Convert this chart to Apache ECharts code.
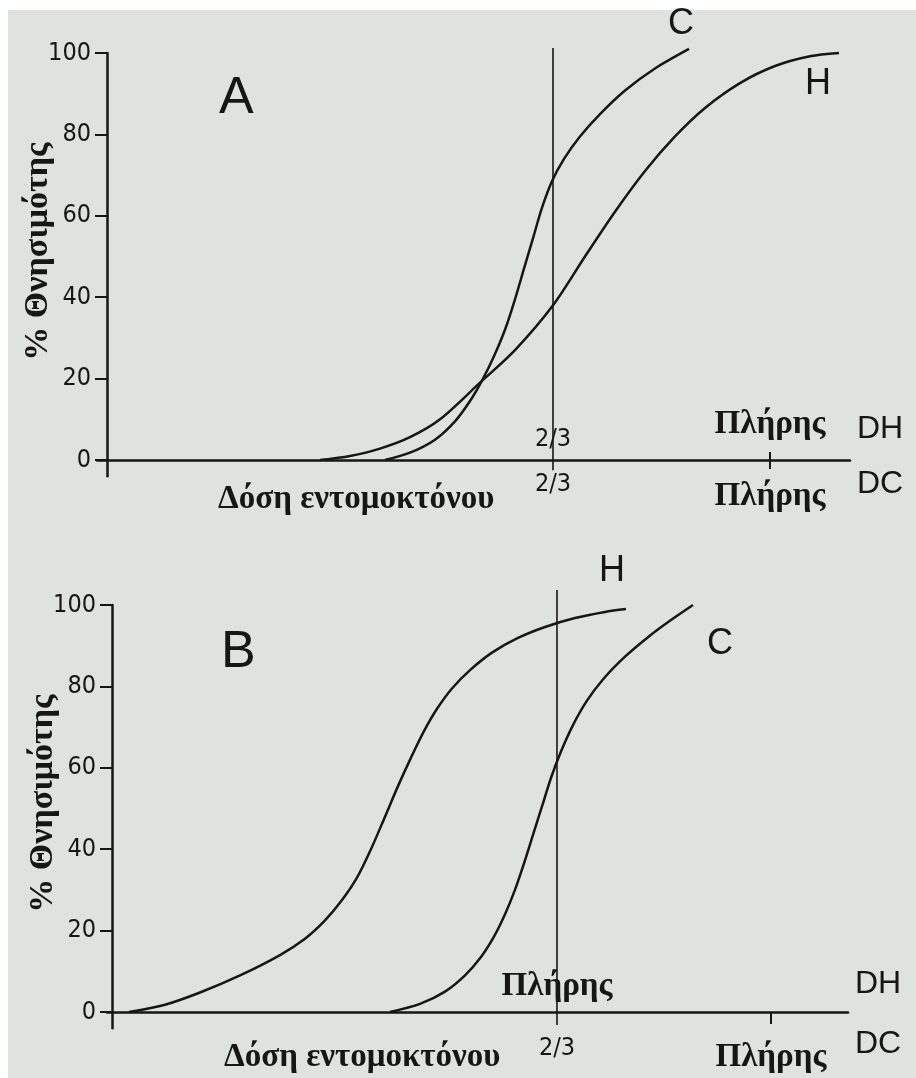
<!DOCTYPE html>
<html><head><meta charset="utf-8">
<script src="https://cdn.jsdelivr.net/npm/echarts@6/dist/echarts.min.js"></script>
<style>
html,body{margin:0;padding:0;background:#fff;overflow:hidden;}
#paper{position:absolute;left:8px;top:10px;width:908px;height:1068px;background:#dfe3df;}
#chart{position:absolute;left:0;top:0;width:916px;height:1078px;}
</style></head><body>
<div id="paper"></div><div id="chart"></div>
<script>
// ---------- data ----------
const yTicks = [0, 20, 40, 60, 80, 100];

// Panel A (dose as fraction of full dose, DC scale)
const doseA_H = [0.3088, 0.3548, 0.4009, 0.447, 0.4931, 0.5545, 0.6083, 0.6667, 0.7158, 0.7619, 0.808, 0.8541, 0.9002, 0.9539, 1.0077, 1.0614, 1.106];
const mortA_H = [0, 1, 2.8, 5.6, 10, 19, 27, 38, 50, 61, 71, 79.5, 86.5, 92.6, 96.8, 99.2, 100];
const doseA_C = [0.4086, 0.447, 0.4854, 0.5161, 0.5392, 0.5576, 0.576, 0.5929, 0.6083, 0.6221, 0.636, 0.6498, 0.6651, 0.6836, 0.7081, 0.7389, 0.7773, 0.8233, 0.8756];
const mortA_C = [0, 1.8, 5, 9.5, 14.5, 19.5, 25.5, 32, 39.5, 47, 54.5, 62, 68.5, 74, 79.5, 85, 90.8, 96.2, 101];

// Panel B
const doseB_H = [0, 0.0561, 0.1106, 0.1729, 0.2352, 0.2741, 0.3053, 0.3318, 0.3551, 0.3769, 0.3988, 0.419, 0.4393, 0.4595, 0.4798, 0.5031, 0.5312, 0.5654, 0.6044, 0.648, 0.6947, 0.7414, 0.7741];
const mortB_H = [0, 1.8, 4.8, 9, 14, 18, 22.5, 27.5, 33, 40, 48, 55.5, 62.5, 69, 74.5, 79.5, 84, 88.3, 91.8, 94.6, 96.8, 98.3, 99];
const doseB_C = [0.4065, 0.4533, 0.4922, 0.5234, 0.5483, 0.5685, 0.5857, 0.6012, 0.6153, 0.6293, 0.6433, 0.6573, 0.6729, 0.6916, 0.7134, 0.7399, 0.7726, 0.8084, 0.8442, 0.8785];
const mortB_C = [0, 2, 5, 9, 13.5, 18.5, 24, 30, 36.5, 43.5, 50.5, 57.5, 64, 70.5, 76.5, 82, 87.3, 92.1, 96.3, 100];

// reference (2/3 dose) vertical line
const refDose = 2 / 3;
const refA = [-2.5, 101.2];
const refB = [-3.2, 103.7];

// x-axis tick labels
const ticksA_DC = [2 / 3, 1];   const labelsA_DC = ['2/3', 'Πλήρης'];
const ticksA_DH = [2 / 3, 1];   const labelsA_DH = ['2/3', 'Πλήρης'];
const ticksB_DC = [2 / 3, 1];   const labelsB_DC = ['2/3', 'Πλήρης'];
const ticksB_DH = [1];          const labelsB_DH = ['Πλήρης'];   // DH scale: full DH = 2/3 DC

const seriesNames = ['H', 'C'];
const panelNames = ['A', 'B'];
const xTitle = 'Δόση εντομοκτόνου';
const yTitle = '% Θνησιμότης';

// ---------- helpers ----------
const zip = (xs, ys) => xs.map((x, i) => [x, ys[i]]);
const INK = '#161616';
const narrow = "'Liberation Sans Narrow','DejaVu Sans Condensed','Liberation Sans',sans-serif";
const serif = "'Liberation Serif','DejaVu Serif',serif";
const sans = "'Liberation Sans',Arial,sans-serif";

function fmt(ticks, labels) {
  return function (v) {
    const i = ticks.findIndex(t => Math.abs(t - v) < 1e-6);
    if (i < 0) return '';
    const s = labels[i];
    return s === '2/3' ? '{n|' + s + '}' : '{g|' + s + '}';
  };
}
function rich(gPad) {
  return {
    n: { fontFamily: narrow, fontSize: 25, lineHeight: 25, color: INK },
    g: { fontFamily: serif, fontWeight: 'bold', fontSize: 33, lineHeight: 33, color: INK, padding: gPad }
  };
}
function yAxis(grid, offset) {
  return {
    type: 'value', gridIndex: grid, min: -4, max: 100, offset: offset,
    axisLine: { show: true, onZero: false, lineStyle: { color: INK, width: 2.5 } },
    axisTick: { show: true, customValues: yTicks, length: 12, lineStyle: { color: INK, width: 2 } },
    axisLabel: { customValues: yTicks, margin: 16, fontFamily: narrow, fontSize: 25, color: INK },
    splitLine: { show: false },
    name: yTitle, nameLocation: 'middle', nameGap: 52, nameMoveOverlap: false,
    nameTextStyle: { fontFamily: serif, fontWeight: 'bold', fontSize: 34, color: INK, padding: [0, 0, 0, 26] }
  };
}
function curve(xi, yi, xs, ys, name, off) {
  return {
    type: 'line', xAxisIndex: xi, yAxisIndex: yi, data: zip(xs, ys),
    smooth: 0.3, symbol: 'none', clip: false, silent: true,
    lineStyle: { color: INK, width: 2.5 },
    endLabel: { show: true, formatter: name, align: 'center', verticalAlign: 'middle', distance: 0,
      offset: off, fontFamily: sans, fontSize: 36, color: INK }
  };
}
function refLine(xi, yi, ext) {
  return {
    type: 'line', xAxisIndex: xi, yAxisIndex: yi, data: [[refDose, ext[0]], [refDose, ext[1]]],
    symbol: 'none', clip: false, silent: true, lineStyle: { color: INK, width: 1.6 }
  };
}

const option = {
  animation: false,
  backgroundColor: 'transparent',
  title: [
    { text: panelNames[0], left: 219, top: 73, padding: 0, textStyle: { fontFamily: sans, fontSize: 52, fontWeight: 'normal', color: INK } },
    { text: panelNames[1], left: 221, top: 627, padding: 0, textStyle: { fontFamily: sans, fontSize: 52, fontWeight: 'normal', color: INK } },
    { text: xTitle, left: 218, top: 483, padding: 0, textStyle: { fontFamily: serif, fontSize: 33, fontWeight: 'bold', color: INK } },
    { text: xTitle, left: 224, top: 1041, padding: 0, textStyle: { fontFamily: serif, fontSize: 33, fontWeight: 'bold', color: INK } }
  ],
  grid: [
    { left: 97, right: 66, top: 53, height: 423.3, outerBoundsMode: 'none', containLabel: false },
    { left: 107, right: 68, top: 605, height: 423.3, outerBoundsMode: 'none', containLabel: false }
  ],
  xAxis: [
    { // A: DC
      type: 'value', gridIndex: 0, min: -0.0338, max: 1.1229, position: 'bottom',
      axisLine: { show: true, onZero: true, lineStyle: { color: INK, width: 2.5 } },
      axisTick: { show: true, customValues: [1], length: 9, lineStyle: { color: INK, width: 2 } },
      axisLabel: { customValues: ticksA_DC, formatter: fmt(ticksA_DC, labelsA_DC), margin: -4, rich: rich([16, 0, 0, 0]) },
      splitLine: { show: false },
      name: 'DC', nameLocation: 'end', nameGap: 7, nameMoveOverlap: false,
      nameTextStyle: { fontFamily: sans, fontSize: 32, color: INK, verticalAlign: 'top', padding: [8, 0, 0, 0] }
    },
    { // A: DH
      type: 'value', gridIndex: 0, min: -0.0338, max: 1.1229, position: 'bottom', offset: -16.3,
      axisLine: { show: false, onZero: false },
      axisTick: { show: true, inside: true, customValues: [1], length: 8, lineStyle: { color: INK, width: 2 } },
      axisLabel: { inside: true, customValues: ticksA_DH, formatter: fmt(ticksA_DH, labelsA_DH), margin: 8, rich: rich([0, 0, 23, 0]) },
      splitLine: { show: false },
      name: 'DH', nameLocation: 'end', nameGap: 7, nameMoveOverlap: false,
      nameTextStyle: { fontFamily: sans, fontSize: 32, color: INK, verticalAlign: 'bottom', padding: [0, 0, 15, 0] }
    },
    { // B: DC
      type: 'value', gridIndex: 1, min: -0.0343, max: 1.12, position: 'bottom',
      axisLine: { show: true, onZero: true, lineStyle: { color: INK, width: 2.5 } },
      axisTick: { show: true, customValues: [1], length: 12, lineStyle: { color: INK, width: 2 } },
      axisLabel: { customValues: ticksB_DC, formatter: fmt(ticksB_DC, labelsB_DC), margin: 8, rich: rich([9, 0, 0, 0]) },
      splitLine: { show: false },
      name: 'DC', nameLocation: 'end', nameGap: 7, nameMoveOverlap: false,
      nameTextStyle: { fontFamily: sans, fontSize: 32, color: INK, verticalAlign: 'top', padding: [16, 0, 0, 0] }
    },
    { // B: DH (full DH = 2/3 DC)
      type: 'value', gridIndex: 1, min: -0.0343 * 1.5, max: 1.12 * 1.5, position: 'bottom', offset: -16.3,
      axisLine: { show: false, onZero: false },
      axisTick: { show: false },
      axisLabel: { inside: true, customValues: ticksB_DH, formatter: fmt(ticksB_DH, labelsB_DH), margin: 9, rich: rich([0, 0, 0, 0]) },
      splitLine: { show: false },
      name: 'DH', nameLocation: 'end', nameGap: 7, nameMoveOverlap: false,
      nameTextStyle: { fontFamily: sans, fontSize: 32, color: INK, verticalAlign: 'bottom', padding: [0, 0, 12, 0] }
    }
  ],
  yAxis: [yAxis(0, -10), yAxis(1, -5)],
  series: [
    curve(0, 0, doseA_H, mortA_H, seriesNames[0], [-21, 31]),
    curve(0, 0, doseA_C, mortA_C, seriesNames[1], [-8, -25]),
    refLine(0, 0, refA),
    curve(2, 1, doseB_H, mortB_H, seriesNames[0], [-14, -38]),
    curve(2, 1, doseB_C, mortB_C, seriesNames[1], [27, 39]),
    refLine(2, 1, refB)
  ]
};

const chart = echarts.init(document.getElementById('chart'), null, { renderer: 'canvas' });
chart.setOption(option);
</script>
</body></html>
